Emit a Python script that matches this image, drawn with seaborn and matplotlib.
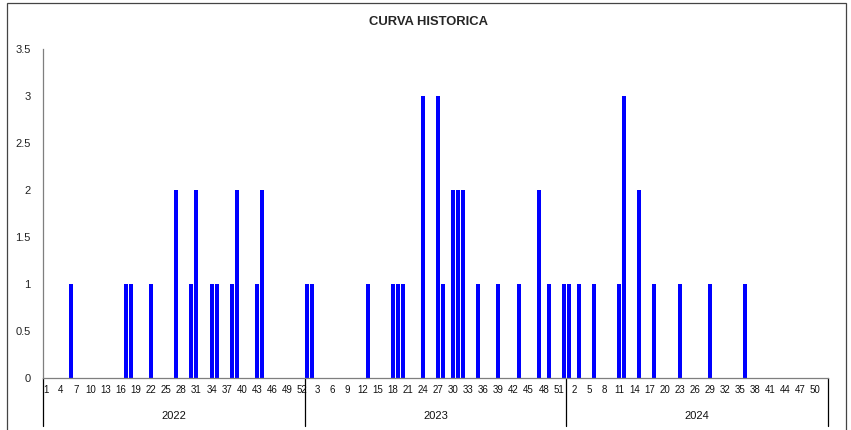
import numpy as np
import pandas as pd
import matplotlib.pyplot as plt
import matplotlib.patches as patches
import seaborn as sns

# datos semanales (solo semanas con casos)
years = ['2022', '2023', '2024']
weeks_per_year = 52
weeks_2022 = [6, 17, 18, 22, 27, 30, 31, 34, 35, 38, 39, 43, 44]
cases_2022 = [1, 1, 1, 1, 2, 1, 2, 1, 1, 1, 2, 1, 2]
weeks_2023 = [1, 2, 13, 18, 19, 20, 24, 27, 28, 30, 31, 32, 35, 39, 43, 47, 49, 52]
cases_2023 = [1, 1, 1, 1, 1, 1, 3, 3, 1, 2, 2, 2, 1, 1, 1, 2, 1, 1]
weeks_2024 = [1, 3, 6, 11, 12, 15, 18, 23, 29, 36]
cases_2024 = [1, 1, 1, 1, 3, 2, 1, 1, 1, 1]
y_ticks = [0, 0.5, 1, 1.5, 2, 2.5, 3, 3.5]

rows = []
for yr, wk, cs in zip(years, [weeks_2022, weeks_2023, weeks_2024],
                      [cases_2022, cases_2023, cases_2024]):
    d = dict(zip(wk, cs))
    for w in range(1, weeks_per_year + 1):
        rows.append({'key': f'{yr}-{w:02d}', 'year': yr, 'week': w, 'casos': d.get(w, 0)})
df = pd.DataFrame(rows)

sns.set_style('white')
plt.rcParams['font.family'] = ['Liberation Sans', 'DejaVu Sans']

fig = plt.figure(figsize=(8.51, 4.30), dpi=100)
ax = fig.add_axes([43/851, 1-378/430, (828-43)/851, (378-49)/430])

sns.barplot(data=df, x='key', y='casos', color='#0000FF', saturation=1,
            width=0.8, ax=ax, errorbar=None, order=df['key'],
            edgecolor='none', linewidth=0)

n = len(df)
ax.set_xlim(-0.5, n - 0.5)
ax.set_ylim(0, 3.5)
ax.set_yticks(y_ticks)
ax.set_yticklabels([f'{v:g}' for v in y_ticks], fontsize=8, color='#222222')
pos = list(range(0, n, 3))
ax.set_xticks(pos)
ax.set_xticklabels([str(df['week'][p]) for p in pos], fontsize=7, color='#111111')
ax.tick_params(axis='x', length=0, pad=5)
ax.tick_params(axis='y', length=0, pad=9)
ax.set_xlabel('')
ax.set_ylabel('')

for s in ['top', 'right']:
    ax.spines[s].set_visible(False)
ax.spines['bottom'].set_color('#7f7f7f')
ax.spines['left'].set_color('#7f7f7f')
ax.spines['bottom'].set_linewidth(0.9)
ax.spines['left'].set_linewidth(0.9)

# eje de categorias con años
trans = ax.get_xaxis_transform()
for i in range(len(years) + 1):
    xs = i * weeks_per_year - 0.5
    ax.plot([xs, xs], [0, -0.145], transform=trans, color='black', lw=0.9, clip_on=False)
for i, yr in enumerate(years):
    xc = i * weeks_per_year + (weeks_per_year - 1) / 2
    ax.text(xc, -0.115, yr, transform=trans, ha='center', va='center', fontsize=8, color='#111111')

fig.text(428/851, 1-22/430, 'CURVA HISTORICA', ha='center', va='center',
         fontsize=9.4, fontweight='bold')

# borde del grafico
fig.patches.append(patches.Rectangle((7/851, -0.05), (846-7)/851, 1.05 - 3/430,
                                     transform=fig.transFigure, fill=False,
                                     edgecolor='#444444', lw=0.9))

fig.savefig('out.png', dpi=100)
